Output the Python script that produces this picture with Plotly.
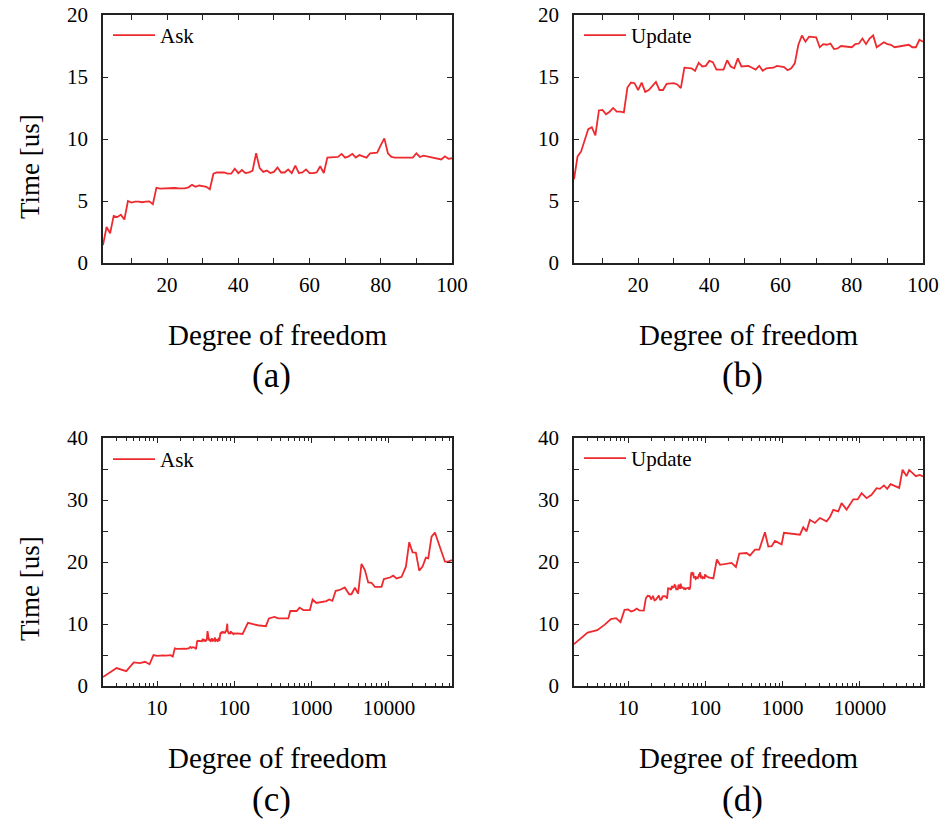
import plotly.graph_objects as go

# ---------------- data ----------------
degrees_small = list(range(2, 101))

ask_small = [1.45, 2.9, 2.4, 3.8, 3.7, 3.9, 3.5, 5.0, 4.87, 4.95,
             4.95, 4.9, 4.95, 4.97, 4.75, 6.07, 6.0, 6.02, 6.07, 6.05,
             6.05, 6.03, 6.0, 6.02, 6.1, 6.3, 6.15, 6.25, 6.2, 6.15,
             5.95, 7.2, 7.3, 7.3, 7.3, 7.2, 7.2, 7.6, 7.25, 7.5,
             7.25, 7.3, 7.45, 8.85, 7.65, 7.35, 7.45, 7.25, 7.35, 7.7,
             7.3, 7.3, 7.55, 7.25, 7.85, 7.25, 7.3, 7.55, 7.25, 7.25,
             7.3, 7.8, 7.25, 8.5, 8.5, 8.55, 8.55, 8.8, 8.5, 8.6,
             8.8, 8.5, 8.7, 8.6, 8.5, 8.85, 8.85, 8.9, 9.5, 10.05,
             8.85, 8.55, 8.5, 8.5, 8.5, 8.5, 8.5, 8.5, 8.85, 8.55,
             8.65, 8.6, 8.5, 8.45, 8.45, 8.35, 8.6, 8.4, 8.45]

update_small = [6.75, 8.6, 9.0, 9.9, 10.8, 10.95, 10.3, 12.3, 12.35, 12.0,
                12.2, 12.5, 12.2, 12.2, 12.15, 14.15, 14.55, 14.5, 13.95, 14.55,
                13.8, 13.95, 14.3, 14.6, 13.95, 13.95, 14.45, 14.5, 14.5, 14.4,
                14.1, 15.75, 15.7, 15.7, 15.5, 16.15, 15.85, 15.9, 16.3, 16.2,
                15.6, 15.6, 15.6, 16.35, 15.85, 15.7, 16.5, 15.85, 15.9, 15.9,
                15.75, 15.6, 15.9, 15.5, 15.7, 15.75, 15.75, 15.9, 15.85, 15.8,
                15.55, 15.7, 16.1, 17.6, 18.35, 17.85, 18.25, 18.2, 18.2, 17.4,
                17.65, 17.6, 17.7, 17.25, 17.3, 17.5, 17.45, 17.45, 17.4, 17.65,
                17.7, 18.1, 17.65, 18.1, 18.35, 17.4, 17.6, 17.8, 17.65, 17.6,
                17.4, 17.45, 17.45, 17.55, 17.6, 17.4, 17.4, 18.0, 17.85]

ask_large_x = [110, 128, 150, 200, 256, 280, 330, 370, 500, 530,
               640, 700, 780, 950, 1030, 1150, 1550, 1690, 1860, 2050,
               2270, 2690, 3060, 3280, 3630, 4000, 4420, 4890, 5400, 5960,
               6580, 8030, 8610, 10290, 11370, 12580, 14600, 16600, 18330, 20240,
               22350, 24680, 27250, 30100, 32300, 35650, 39400, 45700, 53100, 58600,
               65536]
ask_large_y = [8.5, 8.4, 10.2, 9.8, 9.65, 10.9, 11.15, 10.9, 10.9, 12.1,
               12.1, 12.65, 12.25, 12.25, 13.95, 13.4, 13.7, 13.95, 13.75, 15.35,
               15.45, 15.9, 14.8, 14.8, 15.85, 14.9, 19.7, 18.7, 16.7, 16.65,
               16.0, 16.0, 17.25, 17.5, 17.8, 17.35, 17.6, 19.25, 23.2, 21.55,
               21.5, 18.6, 19.25, 20.7, 20.6, 24.1, 24.75, 22.5, 20.05, 20.05,
               20.3]

update_large_x = [110, 127, 141, 155, 219, 249, 275, 342, 378, 439,
                  499, 591, 653, 721, 796, 971, 1040, 1374, 1675, 1850,
                  2043, 2256, 2617, 3038, 3708, 4096, 4523, 5250, 5796, 6730,
                  8210, 9340, 10520, 12200, 14150, 16440, 18160, 20440, 22560, 24920,
                  32260, 35650, 40100, 43400, 52960, 59700, 65536]
update_large_y = [17.5, 17.35, 20.4, 19.55, 19.85, 19.2, 21.35, 21.45, 21.05, 22.0,
                  22.0, 24.8, 22.5, 22.55, 23.4, 22.85, 24.7, 24.55, 24.4, 25.6,
                  24.95, 26.8, 26.3, 27.1, 26.55, 27.25, 28.4, 28.15, 29.5, 28.45,
                  30.1, 30.1, 31.1, 30.3, 30.85, 31.9, 31.8, 32.35, 31.8, 32.55,
                  31.95, 34.9, 33.85, 34.85, 33.85, 34.05, 33.8]

lin_tickvals = [10, 20, 30, 40, 50, 60, 70, 80, 90, 100]
lin_ticktext = ["", "20", "", "40", "", "60", "", "80", "", "100"]
y20_tickvals = [0, 5, 10, 15, 20]
y40_tickvals = [0, 5, 10, 15, 20, 25, 30, 35, 40]
y40_ticktext = ["0", "", "10", "", "20", "", "30", "", "40"]
log_tickvals = [10, 100, 1000, 10000]
log_ticktext = ["10", "100", "1000", "10000"]
log_minor = [m * 10 ** k for k in range(0, 5) for m in range(2, 10) if m * 10 ** k <= 65536]

panel_labels = ["(a)", "(b)", "(c)", "(d)"]
x_title = "Degree of freedom"
y_title = "Time [us]"

# ---------------- styling ----------------
FONT = "Liberation Serif, Times New Roman, serif"
RED = "#ee2a2f"
AXC = "#222222"
W, H = 947, 820


def dom_x(a, b):
    return [a / W, b / W]


def dom_y(a, b):
    return [1 - b / H, 1 - a / H]


def py(p):
    return 1 - p / H


def pxx(p):
    return p / W


fig = go.Figure()

LW = 1.8
fig.add_trace(go.Scatter(x=degrees_small, y=ask_small, mode="lines", name="Ask", showlegend=True,
                         line=dict(color=RED, width=LW), xaxis="x", yaxis="y", legend="legend"))
fig.add_trace(go.Scatter(x=degrees_small, y=update_small, mode="lines", name="Update", showlegend=True,
                         line=dict(color=RED, width=LW), xaxis="x2", yaxis="y2", legend="legend2"))
fig.add_trace(go.Scatter(x=degrees_small + ask_large_x, y=ask_small + ask_large_y, mode="lines", name="Ask",
                         showlegend=True, line=dict(color=RED, width=LW), xaxis="x3", yaxis="y3",
                         legend="legend3"))
fig.add_trace(go.Scatter(x=degrees_small + update_large_x, y=update_small + update_large_y, mode="lines",
                         name="Update", showlegend=True, line=dict(color=RED, width=LW), xaxis="x4",
                         yaxis="y4", legend="legend4"))

common = dict(showline=True, linecolor=AXC, linewidth=1.5, mirror="allticks", ticks="inside",
              ticklen=5, tickcolor=AXC, tickwidth=1.2, showgrid=False, zeroline=False, automargin=False,
              ticklabeloverflow="allow", tickfont=dict(family=FONT, size=21, color="black"))

xa_dom = dom_x(103, 452)
xb_dom = dom_x(574, 923)
ytop_dom = dom_y(15, 263)
ybot_dom = dom_y(438, 686)

lin_x = dict(range=[2, 100], tickmode="array", tickvals=lin_tickvals, ticktext=lin_ticktext,
             ticklabelstandoff=2, **common)
log_x = dict(type="log", range=[0.30103, 4.81648], tickmode="array", tickvals=log_tickvals,
             ticktext=log_ticktext, ticklabelstandoff=2,
             minor=dict(ticks="inside", ticklen=3, tickcolor=AXC, tickvals=log_minor, showgrid=False),
             **common)
y20 = dict(range=[0, 20], tickmode="array", tickvals=y20_tickvals, ticklabelstandoff=9, **common)
y40 = dict(range=[0, 40], tickmode="array", tickvals=y40_tickvals, ticktext=y40_ticktext,
           ticklabelstandoff=9, **common)

fig.update_layout(
    width=W, height=H, showlegend=True,
    margin=dict(l=0, r=0, t=0, b=0, pad=0, autoexpand=False),
    paper_bgcolor="white", plot_bgcolor="white",
    font=dict(family=FONT, color="black"),
    xaxis=dict(domain=xa_dom, anchor="y", **lin_x),
    yaxis=dict(domain=ytop_dom, anchor="x", **y20),
    xaxis2=dict(domain=xb_dom, anchor="y2", **lin_x),
    yaxis2=dict(domain=ytop_dom, anchor="x2", **y20),
    xaxis3=dict(domain=xa_dom, anchor="y3", **log_x),
    yaxis3=dict(domain=ybot_dom, anchor="x3", **y40),
    xaxis4=dict(domain=xb_dom, anchor="y4", **log_x),
    yaxis4=dict(domain=ybot_dom, anchor="x4", **y40),
)

leg_common = dict(xanchor="left", yanchor="top", bgcolor="rgba(0,0,0,0)", borderwidth=0,
                  font=dict(family=FONT, size=21, color="black"), itemwidth=42, visible=True)
fig.update_layout(
    legend=dict(x=pxx(108), y=py(15), **leg_common),
    legend2=dict(x=pxx(579), y=py(15), **leg_common),
    legend3=dict(x=pxx(108), y=py(439), **leg_common),
    legend4=dict(x=pxx(579), y=py(438), **leg_common),
)

annotations = []
for i, (xd, base) in enumerate([(xa_dom, 263), (xb_dom, 263), (xa_dom, 686), (xb_dom, 686)]):
    cx = (xd[0] + xd[1]) / 2
    annotations.append(dict(text=x_title, x=cx, y=py(base + 72), xref="paper", yref="paper",
                            xanchor="center", yanchor="middle", showarrow=False,
                            font=dict(family=FONT, size=29, color="black")))
    annotations.append(dict(text=panel_labels[i], x=cx - 6 / W, y=py(base + 113), xref="paper", yref="paper",
                            xanchor="center", yanchor="middle", showarrow=False,
                            font=dict(family=FONT, size=35, color="black")))
for cy in [166, 588]:
    annotations.append(dict(text=y_title, x=pxx(30), y=py(cy), xref="paper", yref="paper",
                            xanchor="center", yanchor="middle", textangle=-90, showarrow=False,
                            font=dict(family=FONT, size=27, color="black")))
fig.update_layout(annotations=annotations)

# remove the default 8px page margin so the figure fills the 947x820 window exactly
fig.write_html("out.html", config={"displayModeBar": False},
               post_script="document.body.style.margin='0';")
